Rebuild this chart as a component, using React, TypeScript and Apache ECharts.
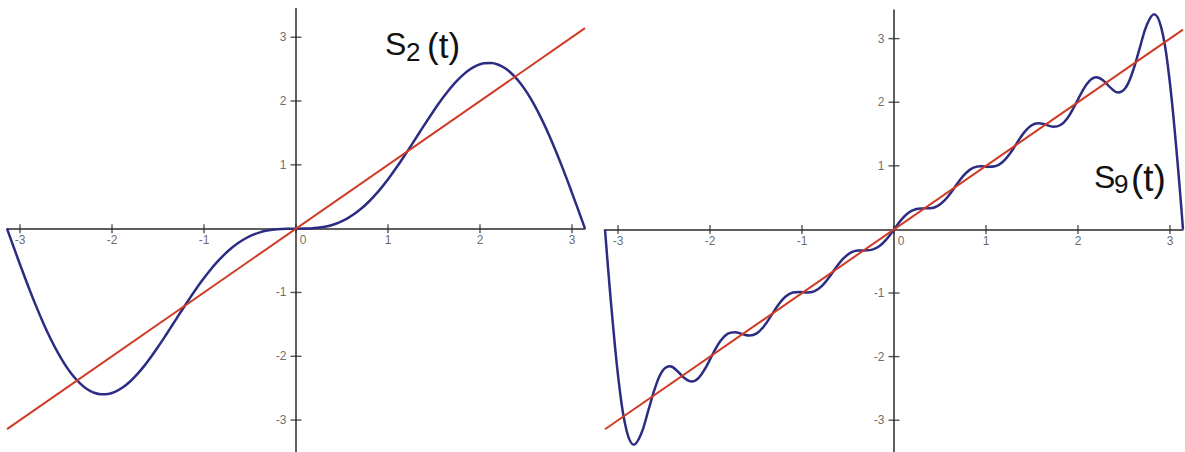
import { useEffect, useRef } from "react";
import * as echarts from "echarts";

// Sample points t on [-π, π]
const T = [
  -3.1416, -3.0631, -2.9845, -2.906, -2.8274, -2.7489, -2.6704, -2.5918, -2.5133, -2.4347,
  -2.3562, -2.2777, -2.1991, -2.1206, -2.042, -1.9635, -1.885, -1.8064, -1.7279, -1.6493,
  -1.5708, -1.4923, -1.4137, -1.3352, -1.2566, -1.1781, -1.0996, -1.021, -0.9425, -0.8639,
  -0.7854, -0.7069, -0.6283, -0.5498, -0.4712, -0.3927, -0.3142, -0.2356, -0.1571, -0.0785,
  0,
  0.0785, 0.1571, 0.2356, 0.3142, 0.3927, 0.4712, 0.5498, 0.6283, 0.7069, 0.7854,
  0.8639, 0.9425, 1.021, 1.0996, 1.1781, 1.2566, 1.3352, 1.4137, 1.4923, 1.5708,
  1.6493, 1.7279, 1.8064, 1.885, 1.9635, 2.042, 2.1206, 2.1991, 2.2777, 2.3562,
  2.4347, 2.5133, 2.5918, 2.6704, 2.7489, 2.8274, 2.906, 2.9845, 3.0631, 3.1416,
];

// Partial Fourier sum S2(t)
const S2 = [
  0, -0.313, -0.622, -0.921, -1.206, -1.473, -1.717, -1.936, -2.127, -2.287,
  -2.414, -2.509, -2.569, -2.596, -2.591, -2.555, -2.49, -2.399, -2.284, -2.15,
  -2.0, -1.837, -1.666, -1.491, -1.314, -1.141, -0.973, -0.814, -0.667, -0.533,
  -0.414, -0.311, -0.225, -0.154, -0.099, -0.058, -0.03, -0.013, -0.004, -0.001,
  0,
  0.001, 0.004, 0.013, 0.03, 0.058, 0.099, 0.154, 0.225, 0.311, 0.414,
  0.533, 0.667, 0.814, 0.973, 1.141, 1.314, 1.491, 1.666, 1.837, 2.0,
  2.15, 2.284, 2.399, 2.49, 2.555, 2.591, 2.596, 2.569, 2.509, 2.414,
  2.287, 2.127, 1.936, 1.717, 1.473, 1.206, 0.921, 0.622, 0.313, 0,
];

// Partial Fourier sum S9(t)
const S9 = [
  0, -1.369, -2.483, -3.169, -3.385, -3.218, -2.847, -2.467, -2.219, -2.152,
  -2.225, -2.338, -2.391, -2.329, -2.16, -1.941, -1.749, -1.638, -1.616, -1.647,
  -1.67, -1.634, -1.522, -1.356, -1.185, -1.056, -0.993, -0.985, -0.993, -0.971,
  -0.891, -0.756, -0.596, -0.456, -0.366, -0.332, -0.33, -0.318, -0.262, -0.15,
  0,
  0.15, 0.262, 0.318, 0.33, 0.332, 0.366, 0.456, 0.596, 0.756, 0.891,
  0.971, 0.993, 0.985, 0.993, 1.056, 1.185, 1.356, 1.522, 1.634, 1.67,
  1.647, 1.616, 1.638, 1.749, 1.941, 2.16, 2.329, 2.391, 2.338, 2.225,
  2.152, 2.219, 2.467, 2.847, 3.218, 3.385, 3.169, 2.483, 1.369, 0,
];

// Endpoints of the target function f(t) = t
const LINE_T = [-3.1416, 3.1416];
const LINE_F = [-3.1416, 3.1416];

const X_TICKS = [-3, -2, -1, 0, 1, 2, 3];
const Y_TICKS = [-3, -2, -1, 1, 2, 3];

const BLUE = "#2b2c82";
const RED = "#cf3b24";
const AXIS = "#2a2a2a";
const LABEL_COLOR = "#444";
const LABEL_FONT = "Liberation Sans";

const panels = [
  { values: S2, grid: { left: 7, top: 8.5, width: 578, height: 448.3 } },
  { values: S9, grid: { left: 605, top: 10, width: 578, height: 448.3 } },
];

function buildOption(): echarts.EChartsOption {
  const grid: any[] = [];
  const xAxis: any[] = [];
  const yAxis: any[] = [];
  const series: any[] = [];

  panels.forEach((p, i) => {
    grid.push(p.grid);
    const axisCommon = {
      gridIndex: i,
      type: "value",
      axisLine: { onZero: true, lineStyle: { color: AXIS, width: 1.5 } },
      axisTick: { show: false },
      axisLabel: { show: false },
      splitLine: { show: false },
    };
    xAxis.push({ ...axisCommon, min: -3.1416, max: 3.1416 });
    yAxis.push({ ...axisCommon, min: -3.5, max: 3.45 });

    series.push({
      type: "line",
      xAxisIndex: i,
      yAxisIndex: i,
      data: T.map((t, k) => [t, p.values[k]]),
      showSymbol: false,
      smooth: 0.4,
      lineStyle: { color: BLUE, width: 2.5 },
      z: 3,
    });
    series.push({
      type: "line",
      xAxisIndex: i,
      yAxisIndex: i,
      data: LINE_T.map((t, k) => [t, LINE_F[k]]),
      showSymbol: false,
      lineStyle: { color: RED, width: 2 },
      z: 4,
    });
    // tick marks crossing the x axis, with their labels
    series.push({
      type: "scatter",
      xAxisIndex: i,
      yAxisIndex: i,
      silent: true,
      symbol: "rect",
      symbolSize: [1.4, 9],
      itemStyle: { color: AXIS },
      z: 2,
      data: X_TICKS.map((v) => ({
        value: [v, 0],
        label: v === 0 ? { offset: [7, 0] } : undefined,
      })),
      label: {
        show: true,
        position: "bottom",
        distance: 1,
        color: LABEL_COLOR,
        fontSize: 12,
        fontFamily: LABEL_FONT,
        formatter: (q: any) => String(q.value[0]),
      },
    });
    // tick marks crossing the y axis, with their labels
    series.push({
      type: "scatter",
      xAxisIndex: i,
      yAxisIndex: i,
      silent: true,
      symbol: "rect",
      symbolSize: [11, 1.4],
      itemStyle: { color: AXIS },
      z: 2,
      data: Y_TICKS.map((v) => [0, v]),
      label: {
        show: true,
        position: "left",
        distance: 4,
        color: LABEL_COLOR,
        fontSize: 12,
        fontFamily: LABEL_FONT,
        formatter: (q: any) => String(q.value[1]),
      },
    });
  });

  const txt = (text: string, x: number, y: number, size: number) => ({
    type: "text",
    x,
    y,
    style: {
      text,
      fill: "#111",
      fontSize: size,
      fontFamily: "Liberation Sans",
      align: "left",
      verticalAlign: "middle",
    },
    z: 10,
  });

  return {
    animation: false,
    backgroundColor: "#ffffff",
    grid,
    xAxis,
    yAxis,
    series,
    graphic: [
      txt("S", 385, 43.5, 32),
      txt("2", 406, 52, 26),
      txt("(t)", 427, 45, 35),
      txt("S", 1094, 176.5, 32),
      txt("9", 1114, 184, 26),
      txt("(t)", 1131, 178.5, 37),
    ],
  };
}

export default function App() {
  const ref = useRef<HTMLDivElement>(null);

  useEffect(() => {
    if (!ref.current) return;
    const chart = echarts.init(ref.current, undefined, { renderer: "svg" });
    chart.setOption(buildOption());
    return () => chart.dispose();
  }, []);

  return (
    <div
      ref={ref}
      style={{ position: "absolute", left: 0, top: 0, width: 1185, height: 452 }}
    />
  );
}
